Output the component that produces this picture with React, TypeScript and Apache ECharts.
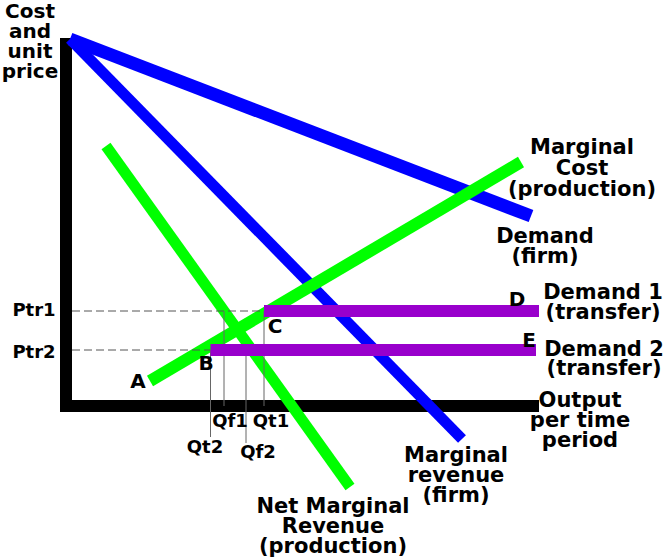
import React, { useEffect, useRef } from "react";
import * as echarts from "echarts";

// ---- Data (x: output units, y: price units; origin at the axes' corner) ----
const yAxisSegment: number[][] = [[0, -1.5], [0, 92]];
const xAxisSegment: number[][] = [[-1.2, 0], [94.6, 0]];

const demandFirm: number[][] = [[0.8, 91.75], [93, 47.5]];
const marginalRevenueFirm: number[][] = [[0.8, 91.75], [79.2, -8.25]];
const marginalCost: number[][] = [[16.8, 6.25], [91, 61]];
const netMarginalRevenue: number[][] = [[8, 65], [56.8, -20.25]];

const priceLabels: string[] = ["Ptr1", "Ptr2"];
const priceValues: number[] = [23.75, 14];

const quantityLabels: string[] = ["Qt2", "Qf1", "Qf2", "Qt1"];
const quantityValues: number[] = [28.9, 31.6, 36, 39.6];
const quantityTopPrice: number[] = [14, 23.75, 14, 23.75];
const quantityBottom: number[] = [-7.75, 0, -9.25, 0];

const transferStart: number[] = [39.6, 28.9]; // Qt1 for Demand 1, Qt2 for Demand 2
const transferEnd: number[] = [94.6, 94];
const dashStart = 1.2;

// ---- Layout (pixels) ----
const W = 665;
const H = 559;
const ORIGIN_X = 66;
const ORIGIN_Y = 406;
const PX_PER_X = 5;
const PX_PER_Y = 4;

const FONT = '"DejaVu Sans", "Liberation Sans", sans-serif';

type Lbl = { text: string; x: number; y: number; size: number; lh: number };
const labels: Lbl[] = [
  { text: "Cost\nand\nunit\nprice", x: 30, y: 41, size: 20, lh: 20 },
  { text: "Marginal\nCost\n(production)", x: 582, y: 168, size: 21, lh: 21 },
  { text: "Demand\n(firm)", x: 545, y: 246, size: 21, lh: 20 },
  { text: "Demand 1\n(transfer)", x: 603, y: 302, size: 21, lh: 20 },
  { text: "Demand 2\n(transfer)", x: 604, y: 358, size: 21, lh: 19 },
  { text: "Output\nper time\nperiod", x: 580, y: 420, size: 21, lh: 20 },
  { text: "Marginal\nrevenue\n(firm)", x: 456, y: 475, size: 21, lh: 20 },
  { text: "Net Marginal\nRevenue\n(production)", x: 333, y: 526, size: 21, lh: 20 },
  { text: "A", x: 138, y: 381, size: 20, lh: 20 },
  { text: "B", x: 206, y: 363, size: 20, lh: 20 },
  { text: "C", x: 275, y: 326, size: 20, lh: 20 },
  { text: "D", x: 517, y: 299, size: 20, lh: 20 },
  { text: "E", x: 529, y: 340, size: 20, lh: 20 },
  { text: priceLabels[0], x: 34, y: 309, size: 18, lh: 18 },
  { text: priceLabels[1], x: 34, y: 351, size: 18, lh: 18 },
  { text: quantityLabels[1], x: 230, y: 420, size: 18, lh: 18 },
  { text: quantityLabels[3], x: 271, y: 420, size: 18, lh: 18 },
  { text: quantityLabels[0], x: 205, y: 446, size: 18, lh: 18 },
  { text: quantityLabels[2], x: 258, y: 451, size: 18, lh: 18 },
];

function seg(name: string, data: number[][], color: string, width: number, type: any = "solid") {
  return {
    name,
    type: "line",
    data,
    symbol: "none",
    silent: true,
    lineStyle: { color, width, type, cap: "butt" },
    emphasis: { disabled: true },
  };
}

export default function App() {
  const ref = useRef<HTMLDivElement>(null);
  useEffect(() => {
    if (!ref.current) return;
    const chart = echarts.init(ref.current, null, { renderer: "svg" });

    const thin: any[] = [];
    priceValues.forEach((p, i) => {
      thin.push(seg(priceLabels[i] + " dash", [[dashStart, p], [transferStart[i], p]], "#555", 1, [8, 4]));
    });
    quantityValues.forEach((q, i) => {
      thin.push(seg(quantityLabels[i] + " drop", [[q, quantityTopPrice[i]], [q, quantityBottom[i]]], "#666", 1));
    });

    const option: any = {
      animation: false,
      backgroundColor: "#ffffff",
      grid: { left: 0, top: 0, right: 0, bottom: 0, containLabel: false },
      xAxis: {
        type: "value",
        min: -ORIGIN_X / PX_PER_X,
        max: (W - ORIGIN_X) / PX_PER_X,
        show: false,
      },
      yAxis: {
        type: "value",
        min: -(H - ORIGIN_Y) / PX_PER_Y,
        max: ORIGIN_Y / PX_PER_Y,
        show: false,
      },
      series: [
        seg("y axis", yAxisSegment, "#000", 12),
        seg("x axis", xAxisSegment, "#000", 12),
        seg("Demand (firm)", demandFirm, "#0000ff", 13),
        seg("Marginal revenue (firm)", marginalRevenueFirm, "#0000ff", 11),
        seg("Marginal Cost (production)", marginalCost, "#00ff00", 12),
        seg("Net Marginal Revenue (production)", netMarginalRevenue, "#00ff00", 11),
        ...thin,
        seg("Demand 1 (transfer)", [[transferStart[0], priceValues[0]], [transferEnd[0], priceValues[0]]], "#9900cc", 12),
        seg("Demand 2 (transfer)", [[transferStart[1], priceValues[1]], [transferEnd[1], priceValues[1]]], "#9900cc", 12),
      ],
      graphic: labels.map((l) => ({
        type: "text",
        x: l.x,
        y: l.y,
        silent: true,
        z: 100,
        style: {
          text: l.text,
          fill: "#000",
          font: `bold ${l.size}px ${FONT}`,
          fontFamily: FONT,
          fontWeight: "bold",
          fontSize: l.size,
          lineHeight: l.lh,
          align: "center",
          verticalAlign: "middle",
          textAlign: "center",
          textVerticalAlign: "middle",
        },
      })),
    };
    chart.setOption(option);
    return () => chart.dispose();
  }, []);

  return (
    <div
      ref={ref}
      style={{ position: "fixed", left: 0, top: 0, width: W, height: H, background: "#fff" }}
    />
  );
}
